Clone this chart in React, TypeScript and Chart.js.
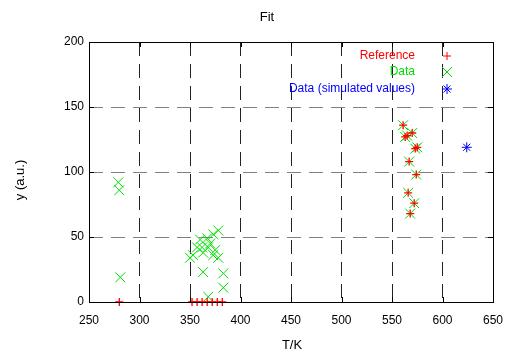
import React, { useEffect, useRef } from "react";
import { Chart, registerables } from "chart.js";

Chart.register(...registerables);

const titleText = "Fit";
const xLabelText = "T/K";
const yLabelText = "y (a.u.)";
const xTicks = [250, 300, 350, 400, 450, 500, 550, 600, 650];
const yTicks = [0, 50, 100, 150, 200];

const seriesNames = ["Reference", "Data", "Data (simulated values)"];

const redX = [280, 352, 357, 362, 367, 372, 377, 382, 561, 565, 570, 563, 575, 573, 567, 574, 566, 572, 568];
const redY = [0, 0, 0, 0, 0, 0, 0, 0, 136, 128, 130, 127, 119, 118, 108, 98, 84, 76, 68];

const greenX = [279, 280, 281, 378, 373, 367, 360, 357, 362, 368, 353, 350, 363, 373, 378, 363, 383, 383, 368, 370, 375, 561, 565, 570, 563, 575, 573, 567, 574, 566, 572, 568];
const greenY = [92, 86, 19, 55, 52, 49, 48, 42, 42, 42, 36, 34, 38, 36, 34, 23, 22, 11, 4, 45, 40, 136, 128, 130, 127, 119, 118, 108, 98, 84, 76, 68];

const blueX = [624];
const blueY = [119];

const colors = ["#ff0000", "#00dd00", "#0000ff"];
const FONT = "'Liberation Sans', Arial, sans-serif";

const zip = (xs: number[], ys: number[]) => xs.map((x, i) => ({ x, y: ys[i] }));

const framePlugin = {
  id: "frame",
  afterDraw(chart: any) {
    const { ctx, chartArea } = chart;
    const { left, right, top, bottom } = chartArea;
    const xs = chart.scales.x;
    const ys = chart.scales.y;
    ctx.save();
    ctx.strokeStyle = "#000";
    ctx.lineWidth = 1;
    ctx.setLineDash([]);
    ctx.strokeRect(Math.round(left) + 0.5, Math.round(top) + 0.5, Math.round(right - left), Math.round(bottom - top));
    const tl = 5;
    ctx.beginPath();
    xTicks.forEach((v) => {
      const px = Math.round(xs.getPixelForValue(v)) + 0.5;
      ctx.moveTo(px, bottom);
      ctx.lineTo(px, bottom - tl);
      ctx.moveTo(px, top);
      ctx.lineTo(px, top + tl);
    });
    yTicks.forEach((v) => {
      const py = Math.round(ys.getPixelForValue(v)) + 0.5;
      ctx.moveTo(left, py);
      ctx.lineTo(left + tl, py);
      ctx.moveTo(right, py);
      ctx.lineTo(right - tl, py);
    });
    ctx.stroke();

    // title and axis labels
    ctx.fillStyle = "#000";
    ctx.font = `13px ${FONT}`;
    ctx.textAlign = "center";
    ctx.textBaseline = "middle";
    ctx.fillText(titleText, 267, 17);
    ctx.fillText(xLabelText, 292, 345);
    ctx.save();
    ctx.translate(20, 180);
    ctx.rotate(-Math.PI / 2);
    ctx.fillText(yLabelText, 0, 0);
    ctx.restore();

    // legend
    const rowsY = [56, 72, 89];
    const textRight = right - 78;
    const sx = right - 46;
    ctx.font = `12px ${FONT}`;
    ctx.textAlign = "right";
    seriesNames.forEach((name, i) => {
      const y = rowsY[i];
      ctx.fillStyle = colors[i];
      ctx.fillText(name, textRight, y);
      ctx.strokeStyle = colors[i];
      ctx.lineWidth = 1;
      ctx.beginPath();
      if (i === 0) {
        ctx.moveTo(sx - 4, y); ctx.lineTo(sx + 4, y);
        ctx.moveTo(sx, y - 4); ctx.lineTo(sx, y + 4);
      } else if (i === 1) {
        ctx.moveTo(sx - 5, y - 5); ctx.lineTo(sx + 5, y + 5);
        ctx.moveTo(sx - 5, y + 5); ctx.lineTo(sx + 5, y - 5);
      } else {
        ctx.moveTo(sx - 5, y); ctx.lineTo(sx + 5, y);
        ctx.moveTo(sx, y - 5); ctx.lineTo(sx, y + 5);
        ctx.moveTo(sx - 3.5, y - 3.5); ctx.lineTo(sx + 3.5, y + 3.5);
        ctx.moveTo(sx - 3.5, y + 3.5); ctx.lineTo(sx + 3.5, y - 3.5);
      }
      ctx.stroke();
    });
    ctx.restore();
  },
};

export default function App() {
  const ref = useRef<HTMLCanvasElement | null>(null);
  useEffect(() => {
    if (!ref.current) return;
    const chart = new Chart(ref.current, {
      type: "scatter",
      data: {
        datasets: [
          { label: seriesNames[0], data: zip(redX, redY), pointStyle: "cross", radius: 4, borderColor: colors[0], backgroundColor: colors[0], borderWidth: 1.3, clip: false } as any,
          { label: seriesNames[1], data: zip(greenX, greenY), pointStyle: "crossRot", radius: 7, borderColor: colors[1], backgroundColor: colors[1], borderWidth: 1, clip: false } as any,
          { label: seriesNames[2], data: zip(blueX, blueY), pointStyle: "star", radius: 5, borderColor: colors[2], backgroundColor: colors[2], borderWidth: 1, clip: false } as any,
        ],
      },
      options: {
        animation: false,
        responsive: false,
        maintainAspectRatio: false,
        layout: { padding: { left: 0, right: 17, top: 42, bottom: 0 } },
        plugins: { legend: { display: false }, title: { display: false }, tooltip: { enabled: false } },
        scales: {
          x: {
            type: "linear",
            min: 250,
            max: 650,
            afterBuildTicks: (s: any) => { s.ticks = xTicks.map((v) => ({ value: v })); },
            afterFit: (s: any) => { s.height = 53; s.paddingLeft = 0; s.paddingRight = 0; },
            ticks: { color: "#000", font: { size: 12, family: FONT }, padding: 11, maxRotation: 0 },
            grid: { color: "#222", drawTicks: false, lineWidth: 1 },
            border: { display: false, dash: [14, 8] },
          },
          y: {
            type: "linear",
            min: 0,
            max: 200,
            afterBuildTicks: (s: any) => { s.ticks = yTicks.map((v) => ({ value: v })); },
            afterFit: (s: any) => { s.width = 89; s.paddingTop = 0; s.paddingBottom = 0; },
            ticks: { color: "#000", font: { size: 12, family: FONT }, padding: 5 },
            grid: { color: "#808080", drawTicks: false, lineWidth: 1 },
            border: { display: false, dash: [14, 8] },
          },
        },
      } as any,
      plugins: [framePlugin],
    });
    return () => chart.destroy();
  }, []);
  return (
    <div style={{ position: "absolute", left: 0, top: 0, width: 510, height: 355, background: "#fff" }}>
      <canvas ref={ref} width={510} height={355} style={{ display: "block", width: 510, height: 355 }} />
    </div>
  );
}
